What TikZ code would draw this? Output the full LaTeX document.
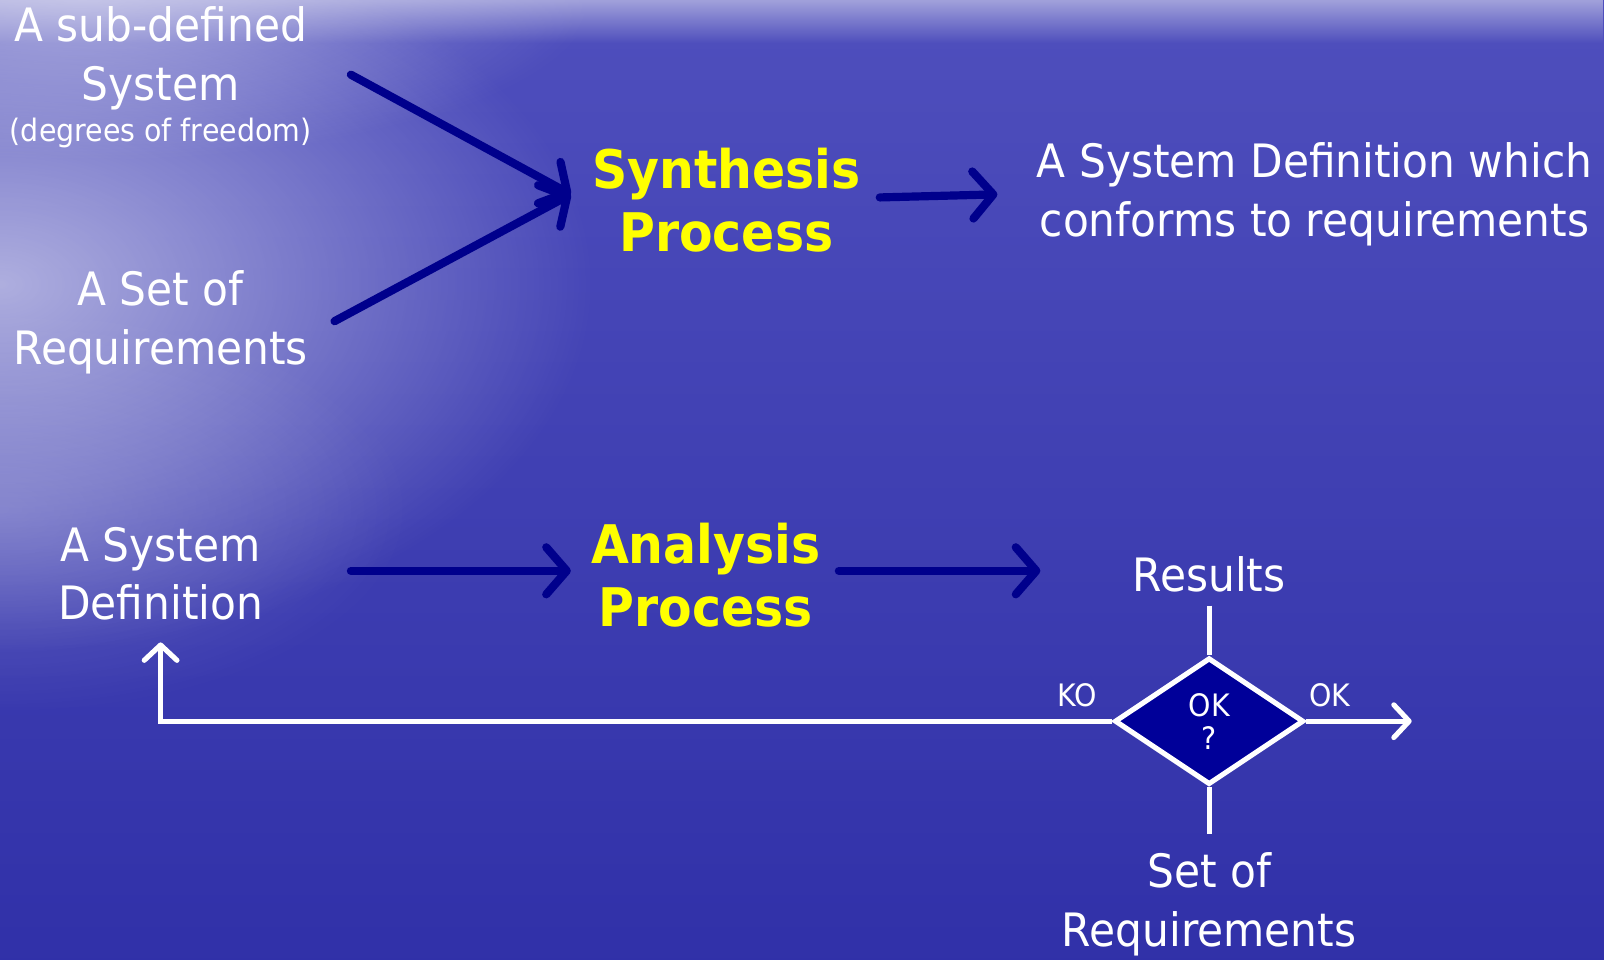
\documentclass[tikz,border=0pt]{standalone}
\usepackage{fontspec}
\setmainfont{DejaVu Sans}[FakeStretch=0.92]
\usetikzlibrary{arrows.meta,shapes.geometric,fadings}
\tikzfading[name=glowfade,inner color=transparent!0,outer color=transparent!100]
\tikzfading[name=topfade,top color=transparent!0,bottom color=transparent!100]

\begin{document}
\begin{tikzpicture}[
  txt/.style={text=white,align=center,font=\fontsize{12.8}{16.2}\selectfont},
  small/.style={text=white,align=center,font=\fontsize{8.6}{9.2}\selectfont},
  proc/.style={text=ffffqq,align=center,font=\fontsize{14.8}{17.6}\selectfont\bfseries},
  navyarrow/.style={line width=0.08cm,color=qqqq8c,line cap=round,-{Straight Barb[round,length=0.2cm,width=0.46cm]}},
  whiteline/.style={line width=0.05cm,color=white},
  whitearrow/.style={whiteline,-{Straight Barb[round,length=0.15cm,width=0.32cm]}},
  decision/.style={shape=diamond,draw=white,fill=qqqq99,line width=0.05cm,minimum width=1.85cm,minimum height=1.24cm,inner sep=0pt}]
\definecolor{ffffqq}{rgb}{1.,1.,0.}
\definecolor{qqqq8c}{rgb}{0.,0.,0.55}
\definecolor{qqqq99}{rgb}{0.,0.,0.6}
\definecolor{5050bc}{rgb}{0.31,0.31,0.74}
\definecolor{4141b4}{rgb}{0.25,0.25,0.71}
\definecolor{3030a8}{rgb}{0.19,0.19,0.66}
\definecolor{a0a0dc}{rgb}{0.63,0.63,0.86}
\definecolor{dcdcf0}{rgb}{0.86,0.86,0.94}
% background
\useasboundingbox (0.,0.) rectangle (15.68,9.375);
\begin{scope}
\clip (0.,0.) rectangle (15.68,9.375);
\shade [top color=5050bc,middle color=4141b4,bottom color=3030a8] (0.,0.) rectangle (15.68,9.375);
\fill [color=a0a0dc,path fading=topfade] (0.,8.95) rectangle (15.68,9.375);
\fill [color=dcdcf0,path fading=glowfade,opacity=0.7] (0.,6.6) ellipse (5.8cm and 3.6cm);
\fill [color=dcdcf0,path fading=glowfade,opacity=0.55] (0.8,9.4) ellipse (5.cm and 1.6cm);
\fill [color=dcdcf0,path fading=glowfade,opacity=0.25] (0.,4.4) ellipse (4.cm and 2.cm);
\end{scope}
% synthesis
\node[txt] (subsys) at (1.57,8.805) {A sub-defined\\System};
\node[small] (dof) at (1.57,8.075) {(degrees of freedom)};
\node[txt] (reqs) at (1.57,6.225) {A Set of\\Requirements};
\node[proc] (synth) at (7.10,7.415) {Synthesis\\Process};
\node[txt] (conform) at (12.85,7.475) {A System Definition which\\conforms to requirements};
\coordinate (s1) at (3.43,8.645);
\coordinate (s2) at (3.27,6.235);
\coordinate (sin) at (5.58,7.475);
\coordinate (sout) at (8.60,7.445);
\coordinate (cin) at (9.75,7.475);
\draw [navyarrow] (s1) -- (sin);
\draw [navyarrow] (s2) -- (sin);
\draw [navyarrow] (sout) -- (cin);
% analysis
\node[txt] (sysdef) at (1.57,3.765) {A System\\Definition};
\node[proc] (anal) at (6.90,3.755) {Analysis\\Process};
\node[txt] (results) at (11.82,3.765) {Results};
\node[decision] (ok) at (11.82,2.325) {};
\node[small] at (ok.center) {OK\\?};
\node[txt] (setreq) at (11.82,0.535) {Set of\\Requirements};
\node[small] (kolab) at (10.53,2.575) {KO};
\node[small] (oklab) at (13.00,2.575) {OK};
\coordinate (a1) at (3.43,3.795);
\coordinate (a2) at (5.58,3.795);
\coordinate (a3) at (8.20,3.795);
\coordinate (a4) at (10.17,3.795);
\coordinate (rtop) at (11.82,3.455);
\coordinate (rbot) at (11.82,1.225);
\coordinate (okend) at (13.80,2.325);
\coordinate (koend) at (1.57,3.095);
\draw [navyarrow] (a1) -- (a2);
\draw [navyarrow] (a3) -- (a4);
\draw [whiteline] (rtop) -- (ok.north);
\draw [whiteline] (ok.south) -- (rbot);
\draw [whitearrow] (ok.east) -- (okend);
\draw [whitearrow] (ok.west) -| (koend);
\end{tikzpicture}
\end{document}
